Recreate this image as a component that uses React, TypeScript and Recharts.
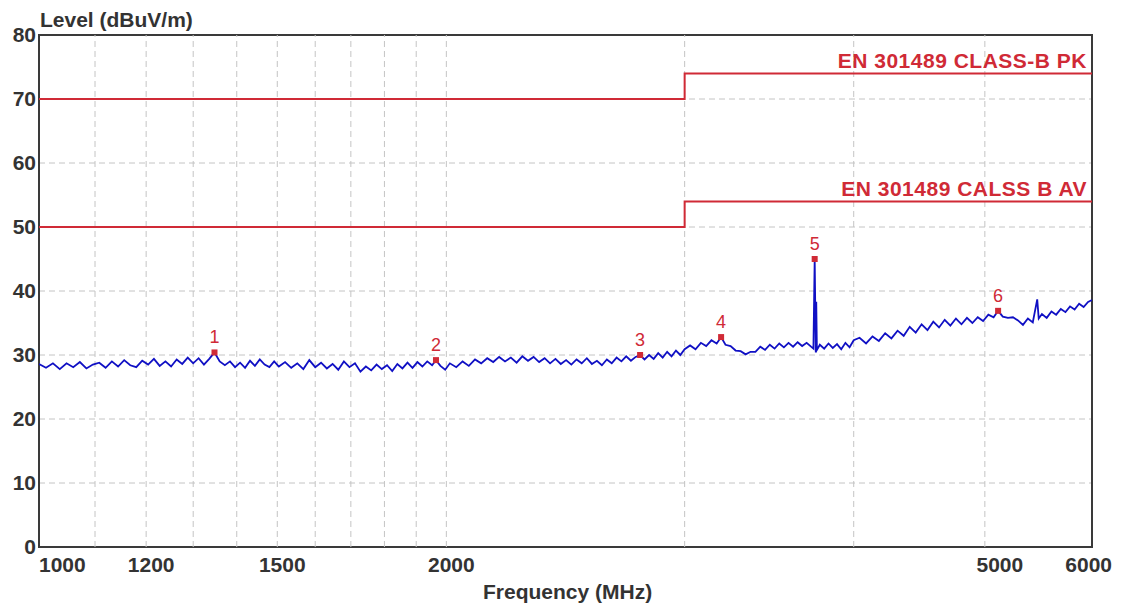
import React from "react";
import {
  ComposedChart,
  Line,
  Scatter,
  XAxis,
  YAxis,
  CartesianGrid,
  ReferenceLine,
  ReferenceArea,
} from "recharts";

// frequency (MHz), level (dBuV/m)
const trace: [number, number][] = [
  [1000, 28.6], [1012, 28.0], [1024, 28.7], [1036, 27.8], [1048, 28.7], [1060, 28.1],
  [1072, 28.9], [1084, 27.9], [1096, 28.5], [1108, 28.8], [1120, 28.0], [1132, 29.0],
  [1144, 28.2], [1156, 29.2], [1168, 28.4], [1180, 28.1], [1192, 29.1], [1204, 28.5],
  [1216, 29.4], [1228, 28.3], [1240, 29.0], [1252, 28.2], [1264, 29.3], [1276, 28.6],
  [1288, 29.6], [1300, 28.7], [1312, 29.5], [1324, 28.5], [1336, 29.4], [1348, 30.4],
  [1360, 29.0], [1372, 28.4], [1384, 29.0], [1396, 28.1], [1408, 28.8], [1420, 28.0],
  [1432, 29.1], [1444, 28.3], [1456, 29.3], [1468, 28.5], [1480, 28.1], [1492, 29.0],
  [1504, 28.2], [1520, 28.9], [1536, 28.0], [1552, 28.7], [1568, 27.8], [1584, 29.2],
  [1600, 28.1], [1616, 28.8], [1632, 27.9], [1648, 28.6], [1664, 27.7], [1680, 29.0],
  [1696, 28.1], [1712, 28.7], [1728, 27.4], [1744, 28.2], [1760, 27.6], [1776, 28.5],
  [1792, 27.8], [1808, 28.4], [1824, 27.5], [1840, 28.6], [1856, 27.9], [1872, 28.8],
  [1888, 28.0], [1904, 28.9], [1920, 28.2], [1936, 29.0], [1952, 28.4], [1965, 29.2],
  [1980, 28.3], [1996, 27.7], [2012, 28.7], [2034, 28.1], [2056, 29.0], [2078, 28.3],
  [2100, 29.3], [2122, 28.7], [2144, 29.5], [2166, 28.9], [2188, 29.7], [2210, 29.0],
  [2232, 29.6], [2254, 28.8], [2276, 29.8], [2298, 29.1], [2320, 29.7], [2342, 28.9],
  [2364, 29.5], [2386, 28.7], [2408, 29.4], [2430, 28.6], [2452, 29.2], [2474, 28.5],
  [2496, 29.3], [2518, 28.7], [2540, 29.5], [2562, 28.6], [2584, 29.1], [2606, 28.4],
  [2628, 29.3], [2650, 28.7], [2672, 29.6], [2694, 29.0], [2716, 29.8], [2738, 29.1],
  [2760, 29.7], [2781, 30.0], [2802, 29.3], [2824, 30.0], [2846, 29.4], [2868, 30.3],
  [2890, 29.6], [2912, 30.5], [2934, 29.8], [2956, 30.7], [2978, 30.0], [3000, 30.9],
  [3028, 31.5], [3056, 30.9], [3084, 31.9], [3112, 31.4], [3140, 32.3], [3168, 31.8],
  [3192, 32.8], [3216, 31.6], [3244, 31.4], [3272, 30.7], [3300, 30.6], [3328, 30.1],
  [3356, 30.5], [3384, 30.5], [3412, 31.3], [3440, 30.8], [3468, 31.6], [3496, 31.0],
  [3524, 31.8], [3552, 31.2], [3580, 31.9], [3608, 31.3], [3636, 32.0], [3664, 31.4],
  [3692, 31.9], [3720, 31.3], [3735, 31.0], [3743, 45.0], [3750, 30.4], [3753, 38.3],
  [3757, 30.8], [3776, 31.6], [3804, 31.0], [3832, 31.8], [3860, 31.1], [3888, 31.7],
  [3916, 30.9], [3944, 31.9], [3972, 31.2], [4000, 32.3], [4040, 32.7], [4085, 31.8],
  [4130, 32.9], [4175, 32.2], [4220, 33.4], [4265, 32.6], [4310, 33.8], [4355, 33.0],
  [4400, 34.4], [4445, 33.5], [4490, 34.8], [4535, 33.9], [4580, 35.2], [4625, 34.3],
  [4670, 35.5], [4715, 34.6], [4760, 35.7], [4805, 34.8], [4850, 35.8], [4895, 35.0],
  [4940, 35.9], [4985, 35.3], [5030, 36.3], [5075, 35.9], [5114, 36.9], [5155, 36.0],
  [5200, 35.8], [5245, 35.9], [5290, 35.4], [5335, 34.7], [5380, 35.7], [5425, 35.1],
  [5466, 38.7], [5480, 35.7], [5510, 36.4], [5555, 35.8], [5600, 36.8], [5645, 36.3],
  [5690, 37.2], [5735, 36.7], [5780, 37.6], [5825, 37.1], [5870, 38.0], [5915, 37.5],
  [5960, 38.3], [6000, 38.6],
];

const pkLimitFreq = [1000, 3000, 3000, 6000];
const pkLimitLevel = [70, 70, 74, 74];
const avLimitFreq = [1000, 3000, 3000, 6000];
const avLimitLevel = [50, 50, 54, 54];

const markerFreq = [1348, 1965, 2781, 3192, 3743, 5114];
const markerLevel = [30.4, 29.2, 30.0, 32.8, 45.0, 36.9];
const markerNo = ["1", "2", "3", "4", "5", "6"];

const xTicks = [1000, 1200, 1500, 2000, 5000, 6000];
const xGrid = [1100, 1200, 1300, 1400, 1500, 1600, 1700, 1800, 1900, 2000, 3000, 4000, 5000];
const yTicks = [0, 10, 20, 30, 40, 50, 60, 70, 80];

const traceData = trace.map(([f, v]) => ({ f, v }));
const pkData = pkLimitFreq.map((f, i) => ({ f, v: pkLimitLevel[i] }));
const avData = avLimitFreq.map((f, i) => ({ f, v: avLimitLevel[i] }));
const markerData = markerFreq.map((f, i) => ({ f, v: markerLevel[i], n: markerNo[i] }));

const FONT = '"Liberation Sans", Arial, sans-serif';
const RED = "#d02a36";
const GRID = "#c4c4c4";

const XTick = ({ x, y, payload, index }: any) => {
  const last = index === xTicks.length - 1;
  const anchor = index === 0 ? "start" : last ? "end" : "middle";
  // labels sit a little right of their tick in the original
  const dx = index === 0 ? 0 : last ? 20 : payload.value === 5000 ? 15 : 5;
  return (
    <text
      x={x + dx}
      y={y + 25}
      textAnchor={anchor}
      fill="#333"
      fontSize={21}
      fontWeight="bold"
      fontFamily={FONT}
    >
      {payload.value}
    </text>
  );
};

const YTick = ({ x, y, payload }: any) => (
  <text x={x} y={y + 7} textAnchor="end" fill="#333" fontSize={21} fontWeight="bold" fontFamily={FONT}>
    {payload.value}
  </text>
);

const MarkerShape = ({ cx, cy, payload }: any) => (
  <g>
    <rect x={cx - 3} y={cy - 3} width={6} height={6} fill={RED} />
    <text x={cx} y={cy - 9} textAnchor="middle" fill={RED} fontSize={18} fontFamily={FONT}>
      {payload.n}
    </text>
  </g>
);

const limitLabel = (value: string) => ({
  value,
  position: "insideBottomRight" as const,
  offset: 5,
  fill: RED,
  fontSize: 21,
  fontWeight: "bold",
  fontFamily: FONT,
  letterSpacing: 0.5,
});

export default function App() {
  return (
    <div
      style={{
        position: "absolute",
        left: 0,
        top: 0,
        width: 1125,
        height: 608,
        background: "#fff",
        fontFamily: FONT,
      }}
    >
      <div
        style={{
          position: "absolute",
          left: 40,
          top: 9,
          fontSize: 21,
          fontWeight: "bold",
          color: "#333",
          lineHeight: 1,
        }}
      >
        Level (dBuV/m)
      </div>
      <div
        style={{
          position: "absolute",
          left: 483,
          top: 581,
          fontSize: 21,
          fontWeight: "bold",
          color: "#333",
          lineHeight: 1,
        }}
      >
        Frequency (MHz)
      </div>

      <ComposedChart width={1125} height={608} margin={{ top: 35, right: 33, bottom: 0, left: 0 }}>
        <CartesianGrid vertical={false} stroke={GRID} strokeDasharray="6 4" />
        <XAxis
          dataKey="f"
          type="number"
          scale="log"
          domain={[1000, 6000]}
          ticks={xTicks}
          allowDataOverflow
          height={61}
          axisLine={false}
          tickLine={false}
          tickSize={0}
          tickMargin={0}
          tick={<XTick />}
          interval={0}
        />
        <YAxis
          type="number"
          domain={[0, 80]}
          ticks={yTicks}
          width={39}
          axisLine={false}
          tickLine={false}
          tickSize={0}
          tickMargin={3}
          tick={<YTick />}
          interval={0}
        />
        {xGrid.map((f) => (
          <ReferenceLine key={f} x={f} stroke={GRID} strokeDasharray="6 4" />
        ))}

        <ReferenceLine y={74} stroke="none" label={limitLabel("EN 301489 CLASS-B PK")} />
        <ReferenceLine y={54} stroke="none" label={limitLabel("EN 301489 CALSS B AV")} />

        <Line
          data={pkData}
          dataKey="v"
          type="linear"
          stroke={RED}
          strokeWidth={2}
          dot={false}
          isAnimationActive={false}
        />
        <Line
          data={avData}
          dataKey="v"
          type="linear"
          stroke={RED}
          strokeWidth={2}
          dot={false}
          isAnimationActive={false}
        />
        <Line
          data={traceData}
          dataKey="v"
          type="linear"
          stroke="#1010c4"
          strokeWidth={1.8}
          dot={false}
          isAnimationActive={false}
        />
        <Scatter data={markerData} dataKey="v" shape={<MarkerShape />} isAnimationActive={false} />

        <ReferenceArea x1={1000} x2={6000} y1={0} y2={80} fill="none" stroke="#3a3a3a" strokeWidth={2} />
      </ComposedChart>
    </div>
  );
}
